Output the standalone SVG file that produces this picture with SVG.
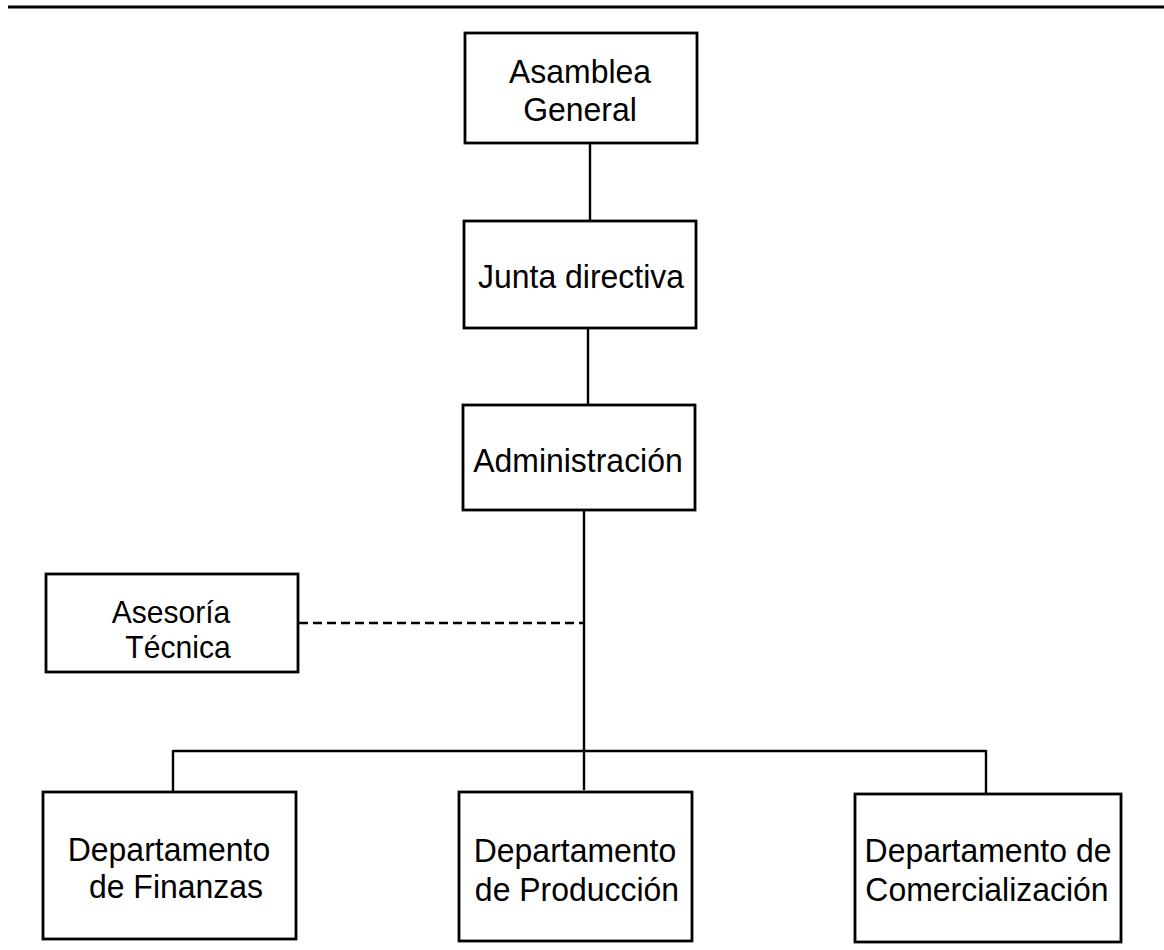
<svg xmlns="http://www.w3.org/2000/svg" width="1164" height="950" viewBox="0 0 1164 950">
<style>
.box{fill:#fff;stroke:#000;stroke-width:2.8}
.t{font-family:"Liberation Sans",Arial,sans-serif;font-size:34px;fill:#000;text-anchor:middle;transform-box:fill-box;transform-origin:center;transform:scaleX(0.94)}
.s{font-size:32px}
.c{stroke:#000;stroke-width:2.4;fill:none}
.d{stroke:#000;stroke-width:2.4;fill:none;stroke-dasharray:9 5}
</style>
<rect width="1164" height="950" fill="#fff"/>
<line x1="8" y1="7" x2="1164" y2="7" stroke="#000" stroke-width="3"/>
<g id="connectors">
<line class="c" x1="590" y1="143" x2="590" y2="221"/>
<line class="c" x1="588" y1="328" x2="588" y2="405"/>
<line class="c" x1="584" y1="510" x2="584" y2="790"/>
<line class="c" x1="173" y1="751" x2="986" y2="751"/>
<line class="c" x1="173" y1="750" x2="173" y2="792"/>
<line class="c" x1="986" y1="750" x2="986" y2="794"/>
<line class="d" x1="299" y1="623" x2="584" y2="623"/>
</g>
<g id="asamblea">
<rect class="box" x="465" y="33" width="232" height="110"/>
<text class="t" x="580" y="83">Asamblea</text>
<text class="t" x="580" y="121">General</text>
</g>
<g id="junta">
<rect class="box" x="464" y="221" width="232" height="107"/>
<text class="t" x="581" y="288">Junta directiva</text>
</g>
<g id="administracion">
<rect class="box" x="463" y="405" width="232" height="105"/>
<text class="t" x="578" y="472">Administración</text>
</g>
<g id="asesoria">
<rect class="box" x="46" y="574" width="252" height="98"/>
<text class="t s" x="171" y="623">Asesoría</text>
<text class="t s" x="178" y="658">Técnica</text>
</g>
<g id="finanzas">
<rect class="box" x="43" y="792" width="253" height="147"/>
<text class="t" x="169" y="861">Departamento</text>
<text class="t" x="176" y="898">de Finanzas</text>
</g>
<g id="produccion">
<rect class="box" x="459" y="792" width="233" height="149"/>
<text class="t" x="575" y="862">Departamento</text>
<text class="t" x="577" y="901">de Producción</text>
</g>
<g id="comercializacion">
<rect class="box" x="855" y="794" width="266" height="148"/>
<text class="t" x="988" y="862">Departamento de</text>
<text class="t" x="987" y="901">Comercialización</text>
</g>
</svg>
